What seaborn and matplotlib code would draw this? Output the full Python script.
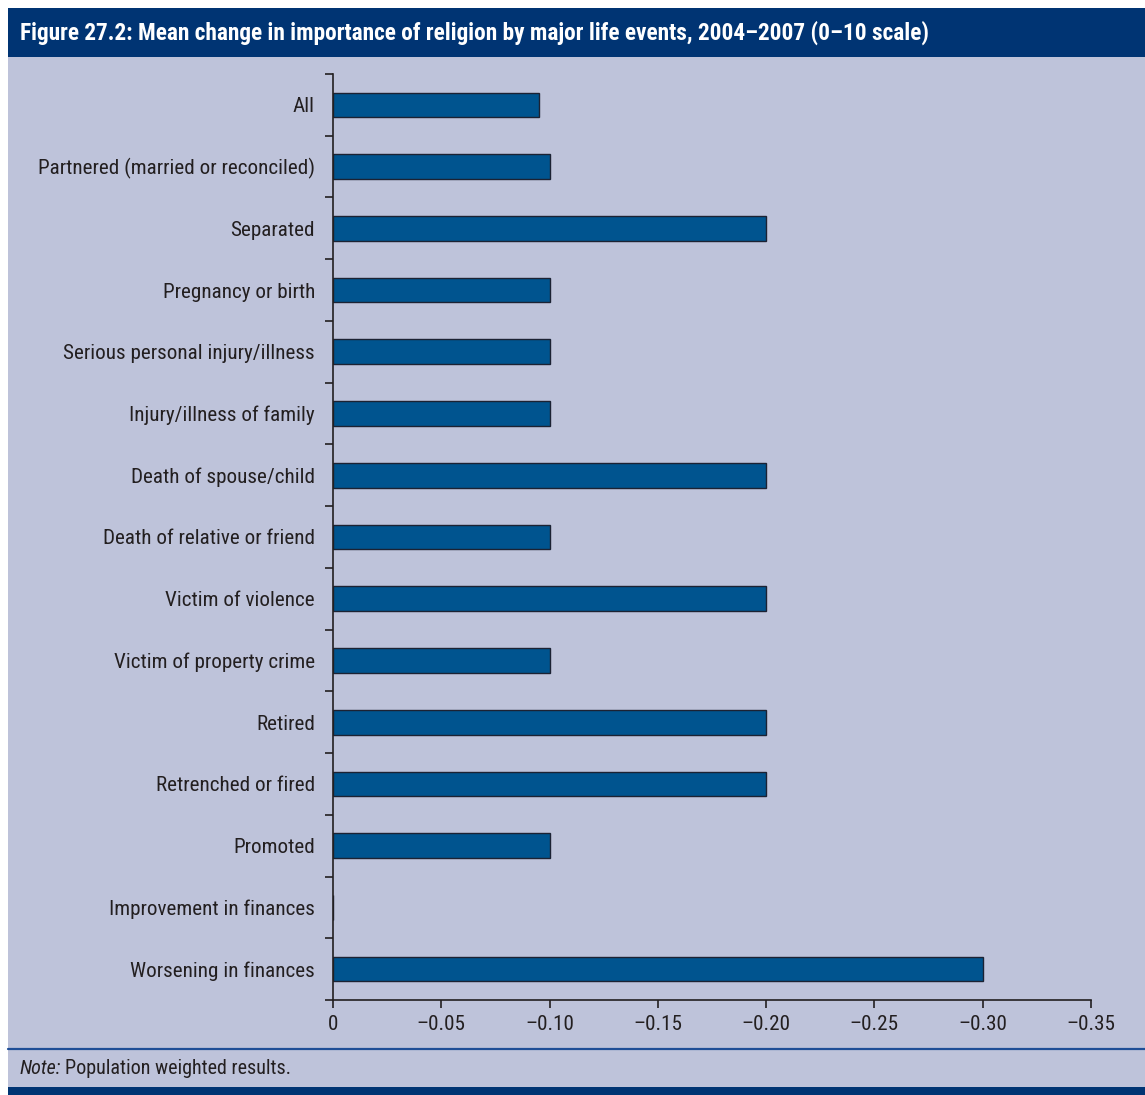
import matplotlib
matplotlib.use("Agg")
import matplotlib.pyplot as plt
from matplotlib import font_manager
from matplotlib.patches import Rectangle
from matplotlib.lines import Line2D
from matplotlib.ticker import FixedLocator
import seaborn as sns
import pandas as pd
import numpy as np

# Life events and mean change in importance of religion (0-10 scale)
events = [
    "All",
    "Partnered (married or reconciled)",
    "Separated",
    "Pregnancy or birth",
    "Serious personal injury/illness",
    "Injury/illness of family",
    "Death of spouse/child",
    "Death of relative or friend",
    "Victim of violence",
    "Victim of property crime",
    "Retired",
    "Retrenched or fired",
    "Promoted",
    "Improvement in finances",
    "Worsening in finances",
]
mean_change = [-0.095, -0.10, -0.20, -0.10, -0.10, -0.10, -0.20, -0.10,
               -0.20, -0.10, -0.20, -0.20, -0.10, 0.0, -0.30]
x_ticks = [0, -0.05, -0.10, -0.15, -0.20, -0.25, -0.30, -0.35]
x_tick_labels = ["0", "\u20130.05", "\u20130.10", "\u20130.15", "\u20130.20",
                 "\u20130.25", "\u20130.30", "\u20130.35"]

title = ("Figure 27.2: Mean change in importance of religion by major life events, "
         "2004\u20132007 (0\u201310 scale)")

df = pd.DataFrame({"event": events, "change": mean_change})

sns.set_theme(style="white")


def pick_family(candidates, weight):
    """First narrow family that is installed with the requested weight."""
    for fam in candidates:
        for f in font_manager.fontManager.ttflist:
            if f.name == fam and f.weight == weight and f.style == "normal":
                return fam
    return "DejaVu Sans"


narrow = ["Liberation Sans Narrow", "Nimbus Sans Narrow", "Roboto Condensed",
          "PT Sans Narrow", "Archivo Narrow", "Asap Condensed"]
BODY_FONT = pick_family(narrow, 400)
TITLE_FONT = pick_family(["Liberation Sans Narrow", "Nimbus Sans Narrow",
                          "Roboto Condensed", "PT Sans Narrow", "Asap Condensed",
                          "Barlow Semi Condensed"], 700)
plt.rcParams["font.family"] = [BODY_FONT, "DejaVu Sans"]

NAVY = "#003473"
PANEL = "#BEC3DA"
BAR = "#00548F"
INK = "#231F20"
FS = 15.2

W, H = 1145, 1095
fig = plt.figure(figsize=(W / 100, H / 100), dpi=100)
fig.patch.set_facecolor("white")


def fy(py):
    return 1 - py / H


# panel background, header band, footer band, separator line
for (y0, y1, col) in [(57, 1087, PANEL), (8, 57, NAVY), (1087, H, NAVY)]:
    fig.patches.append(Rectangle((8 / W, fy(y1)), 1 - 8 / W, fy(y0) - fy(y1),
                                 transform=fig.transFigure, facecolor=col,
                                 edgecolor="none", zorder=-10))
fig.lines.append(Line2D([8 / W, 1], [fy(1049), fy(1049)], transform=fig.transFigure,
                        color="#1F4E96", lw=1.6, zorder=-9))

fig.text(20 / W, fy(33), title, color="white", fontsize=16.8, fontweight="bold",
         family=[TITLE_FONT, "DejaVu Sans"], va="center", ha="left")

ax = fig.add_axes([333 / W, fy(1000), (1091 - 333) / W, fy(74) - fy(1000)])
ax.set_facecolor("none")

sns.barplot(data=df, x="change", y="event", orient="h", color=BAR,
            saturation=1, edgecolor="#1C2233", linewidth=1.0, width=0.4, ax=ax)

ax.set_xlim(0, -0.35)
ax.set_ylim(len(events) - 0.5, -0.5)
ax.set_xticks(x_ticks)
ax.set_xticklabels(x_tick_labels)
ax.set_xlabel("")
ax.set_ylabel("")

for side in ["top", "right"]:
    ax.spines[side].set_visible(False)
for side in ["left", "bottom"]:
    ax.spines[side].set_color(INK)
    ax.spines[side].set_linewidth(1.2)

ax.tick_params(axis="x", direction="out", length=6, width=1.2, color=INK,
               labelsize=FS, labelcolor=INK, pad=5, bottom=True)
ax.tick_params(axis="y", which="major", length=0, labelsize=FS, labelcolor=INK, pad=13)
ax.yaxis.set_minor_locator(FixedLocator(np.arange(-0.5, len(events), 1.0)))
ax.tick_params(axis="y", which="minor", direction="out", length=6, width=1.2,
               color=INK, left=True)

# footnote: italic lead-in followed by regular text
note_lead = fig.text(20 / W, fy(1069), "Note:", fontsize=14.5, fontstyle="italic",
                     color=INK, va="center", ha="left")
fig.canvas.draw()
bb = note_lead.get_window_extent()
fig.text((bb.x1 + 4) / W, fy(1069), "Population weighted results.", fontsize=14.5,
         color=INK, va="center", ha="left")

fig.savefig("out.png", dpi=100, facecolor=fig.get_facecolor())
